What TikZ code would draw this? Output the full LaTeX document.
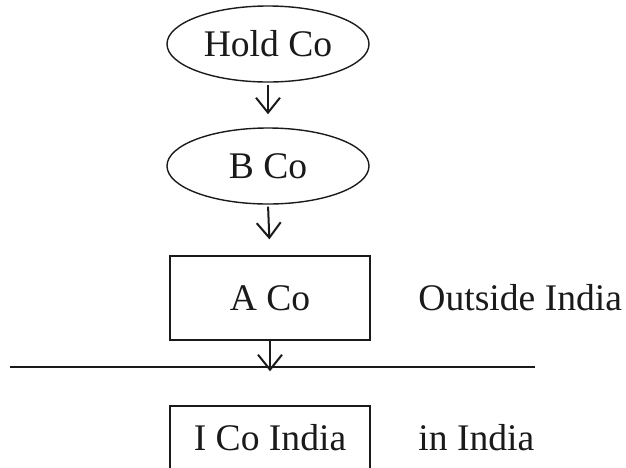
\documentclass[tikz,border=0pt]{standalone}
\usepackage{fontspec}
\setmainfont{Liberation Serif}
\usetikzlibrary{positioning, arrows.meta, shapes.geometric}
\definecolor{ink}{HTML}{1A1A1A}
\tikzset{
  every node/.style = {text=ink, font=\fontsize{18.8}{22}\selectfont},
  cobase/.style     = {draw=ink, line width=0.7pt, inner sep=0pt, align=center},
  coholder/.style   = {cobase, ellipse, minimum width=101pt, minimum height=38pt},
  cosub/.style      = {cobase, rectangle, minimum width=100pt, minimum height=42pt},
  coflow/.style     = {-{Straight Barb[length=7.5pt,width=12pt]}, draw=ink, line width=1pt},
  coside/.style     = {anchor=west, inner sep=0pt},
  coborder/.style   = {draw=ink, line width=0.75pt},
}

\begin{document}
\begin{tikzpicture}[x=0.5pt, y=-0.5pt]
\useasboundingbox (0,0) rectangle (626,467);

\node[coholder] (hold) at (268,44)  {Hold Co};
\node[coholder] (bco)  at (268,166) {B Co};
\node[cosub]    (aco)  at (270,298) {A Co};
\node[cosub, minimum height=32pt] (ico) at (270,438) {I Co India};

\node[coside] (outside) at (418,298) {Outside India};
\node[coside] (inside)  at (418,438) {in India};

% border between the two countries
\coordinate (bl) at (10,367);
\coordinate (br) at (535,367);
\draw[coborder] (bl) -- (br);

\draw[coflow, shorten <=1pt, shorten >=6.5pt] (hold.south) -- (bco.north);
\draw[coflow, shorten <=1pt, shorten >=8pt]   (bco.south) -- (aco.north);
\draw[coflow, shorten >=17pt] (aco.south) -- (ico.north);
\end{tikzpicture}
\end{document}
